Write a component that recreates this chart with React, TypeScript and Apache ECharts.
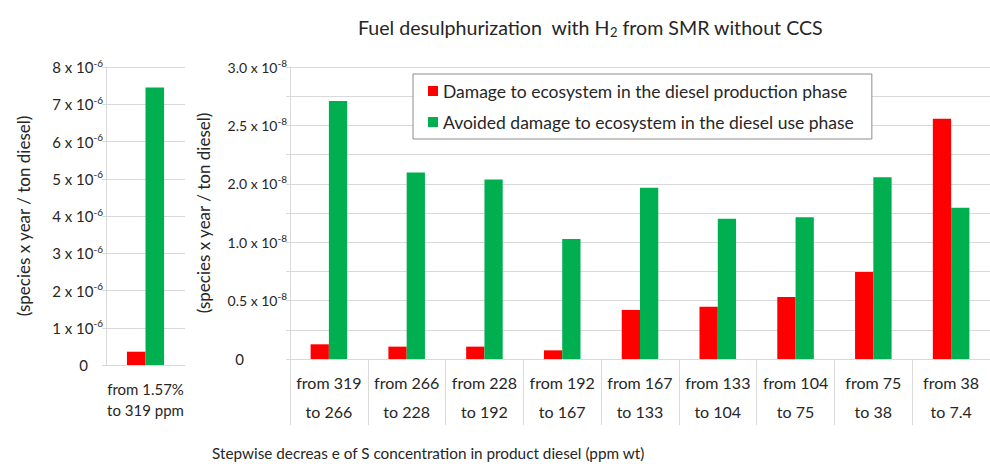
import React, { useEffect, useRef } from "react";
import * as echarts from "echarts";

const FONT = "Lato, 'Open Sans', sans-serif";
const TEXT = "#262626";
const GRID = "#d9d9d9";
const RED = "#ff0000";
const GREEN = "#00b050";

const seriesNames = [
  "Damage to ecosystem in the diesel production phase",
  "Avoided damage to ecosystem in the diesel use phase",
];

// Left panel (values in units of 10^-6)
const leftCategories = ["from 1.57%\nto 319 ppm"];
const leftProduction = [0.357];
const leftAvoided = [7.45];

// Right panel (values in units of 10^-8, on the linear 0–3.0 axis)
const rightCategories = [
  "from 319\nto 266", "from 266\nto 228", "from 228\nto 192", "from 192\nto 167", "from 167\nto 133",
  "from 133\nto 104", "from 104\nto 75", "from 75\nto 38", "from 38\nto 7.4",
];
const rightProduction = [0.151, 0.127, 0.127, 0.089, 0.504, 0.538, 0.638, 0.895, 2.468];
const rightAvoided = [2.65, 1.916, 1.844, 1.234, 1.759, 1.44, 1.457, 1.868, 1.553];
const rightTickLabels = ["0", "0.5", "1.0", "2.0", "2.5", "3.0"];

const yTitle = "(species x year / ton diesel)";
const xTitle = "Stepwise decreas e of S concentration in product diesel (ppm wt)";

export default function App() {
  const ref = useRef<HTMLDivElement>(null);
  useEffect(() => {
    if (!ref.current) return;
    const chart = echarts.init(ref.current, undefined, { renderer: "svg" });
    const leftRich = {
      m: { fontSize: 15, fontFamily: FONT, color: TEXT },
      s: { fontSize: 10, fontFamily: FONT, color: TEXT, padding: [0, 0, 9, 0] },
      z: { fontSize: 15, fontFamily: FONT, color: TEXT, padding: [0, 15, 0, 0] },
    };
    const rightRich = {
      m: { fontSize: 14, fontFamily: FONT, color: TEXT },
      s: { fontSize: 10, fontFamily: FONT, color: TEXT, padding: [0, 0, 9, 0] },
      z: { fontSize: 15, fontFamily: FONT, color: TEXT, padding: [0, 43, 0, 0] },
    };
    chart.setOption({
      animation: false,
      textStyle: { fontFamily: FONT, color: TEXT },
      title: {
        left: 353,
        top: 12,
        text: "{a|Fuel desulphurization  with H}{b|2}{a| from SMR without CCS}",
        textStyle: {
          fontWeight: "normal",
          rich: {
            a: { fontSize: 19.6, fontFamily: FONT, color: TEXT, fontWeight: "normal" },
            b: { fontSize: 13, fontFamily: FONT, color: TEXT, fontWeight: "normal", padding: [8, 0, 0, 0] },
          },
        },
      },
      legend: {
        left: 413, top: 74, orient: "vertical", data: seriesNames, icon: "rect",
        itemWidth: 10, itemHeight: 10, itemGap: 13, padding: [8, 18, 8, 15],
        borderColor: "#8c8c8c", borderWidth: 1, backgroundColor: "#ffffff",
        textStyle: { fontSize: 17.5, color: TEXT, fontFamily: FONT },
      },
      grid: [
        { left: 106, top: 67, width: 79, height: 298 },
        { left: 290, top: 67, width: 711, height: 292 },
      ],
      xAxis: [
        {
          type: "category", gridIndex: 0, data: leftCategories,
          axisLine: { show: true, lineStyle: { color: GRID } },
          axisTick: { show: false },
          axisLabel: { fontSize: 15, lineHeight: 21, margin: 13, color: TEXT, fontFamily: FONT },
        },
        {
          type: "category", gridIndex: 1, data: rightCategories,
          axisLine: { show: true, lineStyle: { color: GRID } },
          axisTick: { show: true, interval: 0, length: 66, lineStyle: { color: GRID } },
          axisLabel: { interval: 0, fontSize: 16, lineHeight: 29, margin: 9, color: TEXT, fontFamily: FONT },
        },
      ],
      yAxis: [
        {
          type: "value", gridIndex: 0, min: 0, max: 8, interval: 1,
          axisLine: { show: true, lineStyle: { color: GRID } },
          axisTick: { show: true, length: 4, lineStyle: { color: GRID } },
          splitLine: { show: true, lineStyle: { color: GRID } },
          axisLabel: {
            margin: 3,
            formatter: (v: number) => (v === 0 ? "{z|0}" : `{m|${v} x 10}{s|-6}`),
            rich: leftRich,
          },
          name: yTitle, nameLocation: "middle", nameRotate: 90, nameGap: 74,
          nameTextStyle: { fontSize: 17, color: TEXT, fontFamily: FONT },
        },
        {
          type: "value", gridIndex: 1, min: 0, max: 3, interval: 0.3,
          axisLine: { show: true, lineStyle: { color: GRID } },
          axisTick: { show: true, length: 4, lineStyle: { color: GRID } },
          splitLine: { show: true, lineStyle: { color: GRID } },
          axisLabel: {
            margin: 3,
            formatter: (v: number) => {
              const k = Math.round(v / 0.3);
              if (k % 2 !== 0) return "";
              const t = rightTickLabels[k / 2];
              return t === "0" ? "{z|0}" : `{m|${t} x 10}{s|-8}`;
            },
            rich: rightRich,
          },
          name: yTitle, nameLocation: "middle", nameRotate: 90, nameGap: 78,
          nameTextStyle: { fontSize: 17, color: TEXT, fontFamily: FONT },
        },
      ],
      series: [
        { name: seriesNames[0], type: "bar", xAxisIndex: 0, yAxisIndex: 0, data: leftProduction, itemStyle: { color: RED }, barGap: "0%", barCategoryGap: "53%" },
        { name: seriesNames[1], type: "bar", xAxisIndex: 0, yAxisIndex: 0, data: leftAvoided, itemStyle: { color: GREEN }, barGap: "0%", barCategoryGap: "53%" },
        { name: seriesNames[0], type: "bar", xAxisIndex: 1, yAxisIndex: 1, data: rightProduction, itemStyle: { color: RED }, barGap: "0%", barCategoryGap: "53%" },
        { name: seriesNames[1], type: "bar", xAxisIndex: 1, yAxisIndex: 1, data: rightAvoided, itemStyle: { color: GREEN }, barGap: "0%", barCategoryGap: "53%" },
      ],
      graphic: [
        { type: "text", left: 212, top: 445, style: { text: xTitle, fontSize: 15.3, fill: TEXT, fontFamily: FONT } },
      ],
    });
    return () => chart.dispose();
  }, []);
  return <div ref={ref} style={{ position: "fixed", left: 0, top: 0, width: 990, height: 464, background: "#fff" }} />;
}
